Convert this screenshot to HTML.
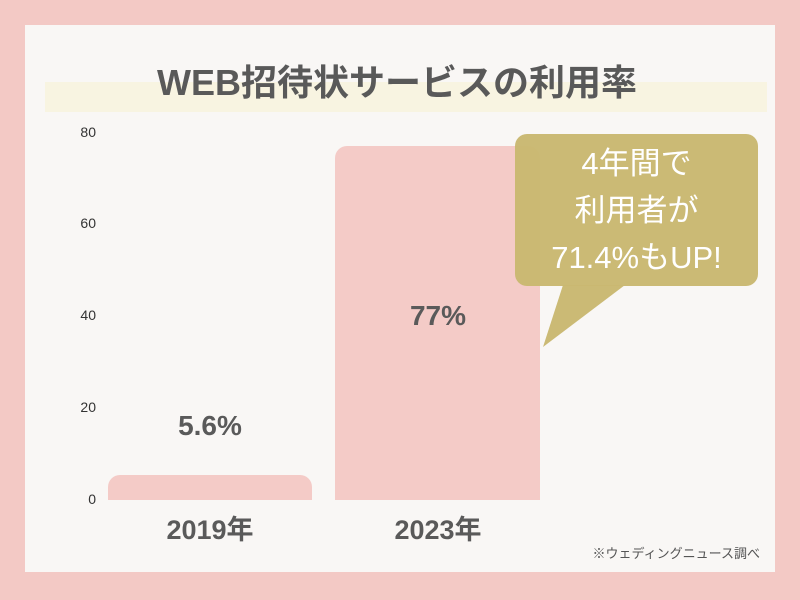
<!DOCTYPE html>
<html><head><meta charset="utf-8"><style>
body{margin:0;width:800px;height:600px;background:#f3c9c5;position:relative;overflow:hidden;font-family:"Liberation Sans","Noto Sans CJK JP",sans-serif}
.t{position:absolute;white-space:nowrap}
</style></head><body>
<div style="position:absolute;left:25px;top:25px;width:750px;height:547px;background:#f9f7f5"></div>
<div style="position:absolute;left:45px;top:82px;width:722px;height:30px;background:#f8f4e1"></div>
<div class="t" style="left:0;width:794px;text-align:center;top:54px;font-size:36px;font-weight:bold;color:#595959">WEB招待状サービスの利用率</div>
<div class="t" style="left:60px;width:36px;text-align:right;top:124px;font-size:14px;color:#333">80</div>
<div class="t" style="left:60px;width:36px;text-align:right;top:215px;font-size:14px;color:#333">60</div>
<div class="t" style="left:60px;width:36px;text-align:right;top:307px;font-size:14px;color:#333">40</div>
<div class="t" style="left:60px;width:36px;text-align:right;top:399px;font-size:14px;color:#333">20</div>
<div class="t" style="left:60px;width:36px;text-align:right;top:491px;font-size:14px;color:#333">0</div>
<div style="position:absolute;left:108px;top:475px;width:204px;height:25px;background:#f4cbc7;border-radius:12px 12px 0 0"></div>
<div style="position:absolute;left:335px;top:146px;width:205px;height:354px;background:#f4cbc7;border-radius:12px 12px 0 0"></div>
<div class="t" style="left:110px;width:200px;text-align:center;top:410px;font-size:28px;font-weight:bold;color:#5a5a5a">5.6%</div>
<div class="t" style="left:338px;width:200px;text-align:center;top:300px;font-size:28px;font-weight:bold;color:#5a5a5a">77%</div>
<div class="t" style="left:110px;width:200px;text-align:center;top:508px;font-size:27px;font-weight:bold;color:#5a5a5a">2019年</div>
<div class="t" style="left:338px;width:200px;text-align:center;top:508px;font-size:27px;font-weight:bold;color:#5a5a5a">2023年</div>
<svg style="position:absolute;left:0;top:0" width="800" height="600">
<g fill="#c9b871" fill-opacity="0.97">
<rect x="515" y="134" width="243" height="152" rx="12"/>
<polygon points="563,285 625,285 543,347"/>
</g>
</svg>
<div class="t" style="left:515px;width:243px;text-align:center;top:140px;font-size:31px;line-height:47px;color:#fff">4年間で<br>利用者が<br>71.4%もUP!</div>
<div class="t" style="right:40px;top:543px;font-size:13px;color:#555">※ウェディングニュース調べ</div>
</body></html>
